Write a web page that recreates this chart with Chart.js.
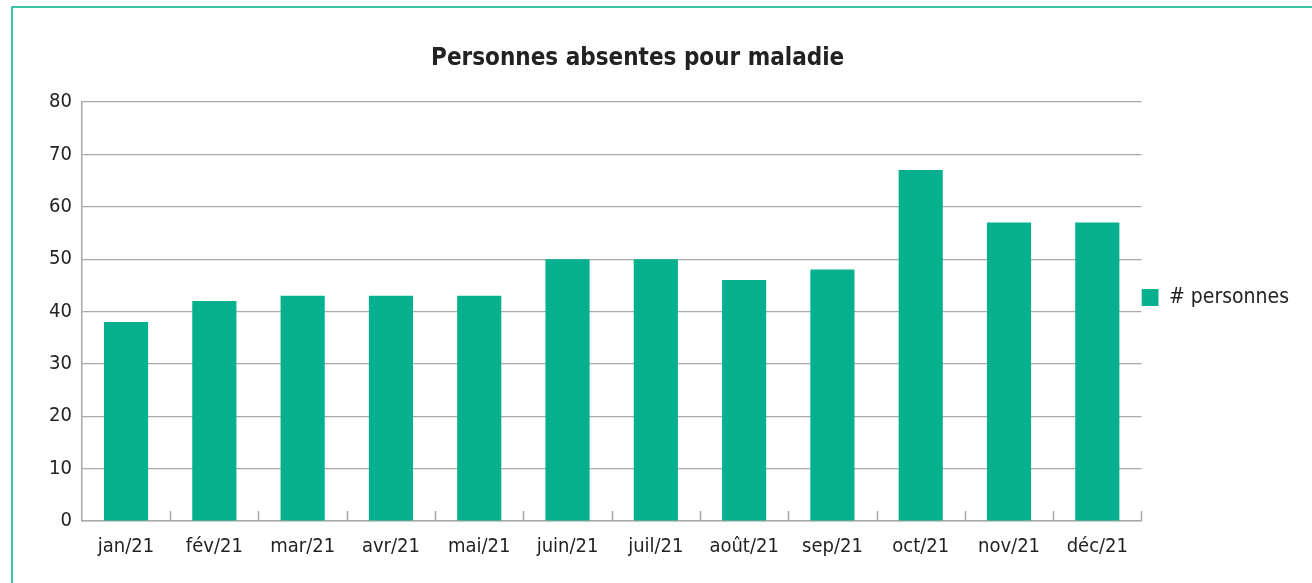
<!DOCTYPE html>
<html>
<head>
<meta charset="utf-8">
<script src="https://cdn.jsdelivr.net/npm/chart.js@4/dist/chart.umd.min.js"></script>
<style>
  html, body { margin: 0; padding: 0; background: #fff; }
  #wrap { position: relative; width: 1312px; height: 583px; overflow: hidden; }
  #frame { position: absolute; left: 11px; top: 6px; width: 1400px; height: 700px;
           border-left: 2px solid #3fc4a6; border-top: 2px solid #3fc4a6; }
  canvas { position: absolute; left: 0; top: 0; }
</style>
</head>
<body>
<div id="wrap">
  <div id="frame"></div>
  <canvas id="chart" width="1312" height="583"></canvas>
</div>
<script>
const months = ['jan/21', 'fév/21', 'mar/21', 'avr/21', 'mai/21', 'juin/21', 'juil/21', 'août/21', 'sep/21', 'oct/21', 'nov/21', 'déc/21'];
const personnes = [38, 42, 43, 43, 43, 50, 50, 46, 48, 67, 57, 57];
const chartTitle = 'Personnes absentes pour maladie';

const FONT = '"Liberation Sans Narrow", "DejaVu Sans Condensed", "Noto Sans", sans-serif';
const TEAL = '#05b08e';
const GRID = '#a9a9a9';

// small upward ticks between categories, like the original
const catTicks = {
  id: 'catTicks',
  afterDatasetsDraw(chart) {
    const x = chart.scales.x;
    const ctx = chart.ctx;
    const step = (x.right - x.left) / months.length;
    ctx.save();
    ctx.strokeStyle = GRID;
    ctx.lineWidth = 1.5;
    ctx.beginPath();
    for (let i = 1; i <= months.length; i++) {
      const px = Math.round(x.left + step * i) + 0.5;
      ctx.moveTo(px, x.top);
      ctx.lineTo(px, x.top - 10);
    }
    ctx.stroke();
    ctx.restore();
  },
};

// title sits a bit right of the plot centre in the original, so draw it by hand
const sideTitle = {
  id: 'sideTitle',
  afterDraw(chart) {
    const ctx = chart.ctx;
    const area = chart.chartArea;
    ctx.save();
    ctx.fillStyle = '#222';
    ctx.font = `bold 24px ${FONT}`;
    ctx.textAlign = 'center';
    ctx.textBaseline = 'middle';
    ctx.fillText(chartTitle, (area.left + area.right) / 2 + 26, area.top - 43);
    ctx.restore();
  },
};

// legend sits a little above the middle of the plot
const liftLegend = {
  id: 'liftLegend',
  afterLayout(chart) {
    chart.legend.top -= 14;
    chart.legend.bottom -= 14;
  },
};

new Chart(document.getElementById('chart'), {
  type: 'bar',
  data: {
    labels: months,
    datasets: [{
      label: '# personnes',
      data: personnes,
      backgroundColor: TEAL,
      borderWidth: 0,
      barPercentage: 0.5,
      categoryPercentage: 1,
    }],
  },
  options: {
    responsive: false,
    animation: false,
    layout: { padding: { top: 102, left: 39, right: 13, bottom: 10 } },
    plugins: {
      title: { display: false },
      legend: {
        position: 'right',
        fullSize: false,
        labels: {
          boxWidth: 17,
          boxHeight: 17,
          color: '#222',
          padding: 0,
          font: { family: FONT, size: 21 },
        },
      },
      tooltip: { enabled: false },
    },
    scales: {
      x: {
        grid: { display: false, drawTicks: false },
        border: { color: GRID, width: 1.5 },
        ticks: { color: '#222', padding: 14, font: { family: FONT, size: 20 } },
      },
      y: {
        min: 0,
        max: 80,
        ticks: { stepSize: 10, color: '#222', padding: 10, font: { family: FONT, size: 20 } },
        grid: { color: GRID, lineWidth: 1.2, drawTicks: false },
        border: { color: GRID, width: 1.5 },
      },
    },
  },
  plugins: [catTicks, sideTitle, liftLegend],
});
</script>
</body>
</html>
